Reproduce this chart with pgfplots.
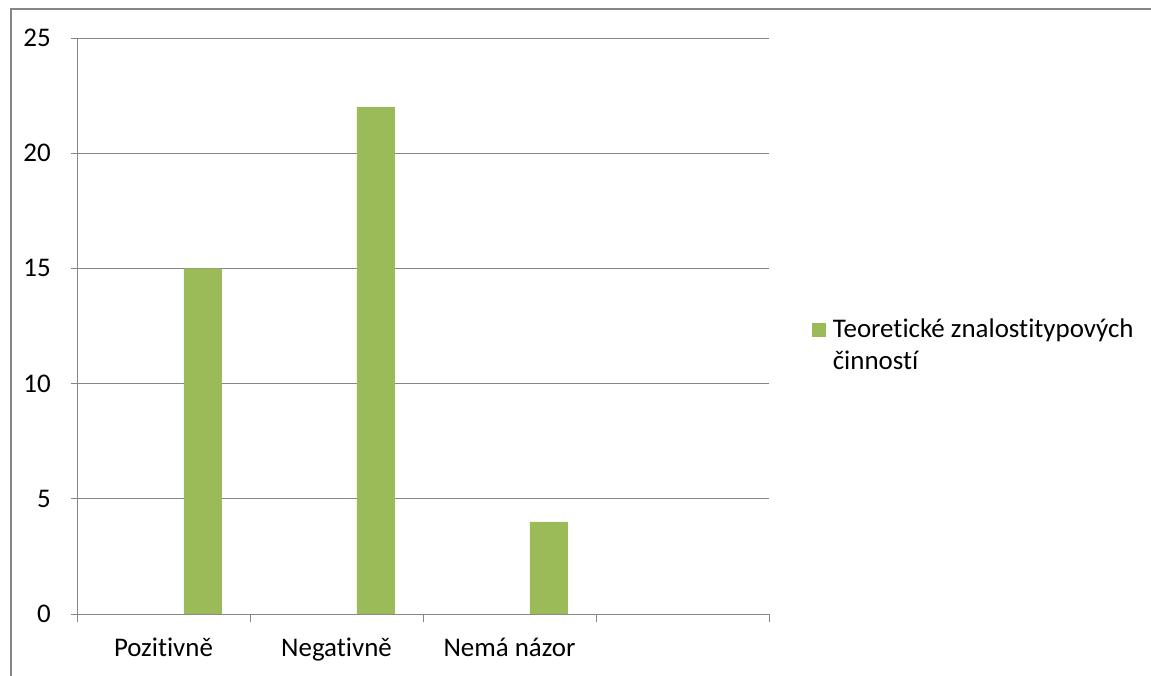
\documentclass[border=0pt]{standalone}
\usepackage{fontspec}
\setmainfont[Ligatures=NoCommon]{Carlito}
\usepackage{pgfplots}
\pgfplotsset{compat=1.18}
\definecolor{barcol}{HTML}{9BBB59}
\definecolor{axgray}{HTML}{868686}
\begin{document}
\fontsize{20.2}{24}\selectfont
\begin{tikzpicture}[x=0.75pt,y=-0.75pt]
\path[use as bounding box] (0,0) rectangle (1151,675);
\draw[axgray,line width=1.5pt] (10.5,676) -- (10.5,9) -- (1152,9);
\coordinate (O) at (77,614);
\begin{axis}[
  at={(O)}, anchor=south west,
  scale only axis, width=519pt, height=432pt,
  font=\fontsize{20.2}{24}\selectfont,
  xmin=0, xmax=4, ymin=0, ymax=25,
  ybar, bar width=28.5pt,
  axis lines*=left,
  axis line style={axgray, line width=0.75pt},
  ytick={0,5,...,25},
  ymajorgrids, grid style={axgray, line width=0.75pt},
  xtick={0.5,1.5,2.5},
  xticklabels={Pozitivně, Negativně, Nemá názor},
  minor xtick={0,1,2,3,4},
  tick align=outside, major tick length=4.5pt, minor tick length=6pt,
  major x tick style={draw=none},
  tick style={axgray, line width=0.75pt},
  x tick label style={anchor=base, inner sep=0pt, yshift=-27.5pt},
  y tick label style={anchor=east, inner sep=0pt, xshift=-15pt},
  /pgf/number format/assume math mode=true,
  legend style={at={(1.062,0.4965)}, anchor=west, draw=none, fill=none, inner sep=0pt, legend cell align=left},
  legend image code/.code={\fill[barcol] (0pt,-7pt) rectangle (10.5pt,3.5pt);},
]
\addplot[fill=barcol, draw=none] coordinates {(0.728,15) (1.728,22) (2.728,4)};
\addlegendentry{\begin{tabular}[t]{@{\hspace{3pt}}l@{}}Teoretické znalostitypových\\činností\end{tabular}}
\end{axis}
\end{tikzpicture}
\end{document}
